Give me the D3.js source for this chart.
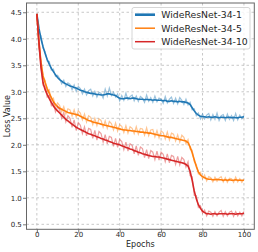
<!DOCTYPE html>
<html>
<head>
<meta charset="utf-8">
<script src="https://d3js.org/d3.v7.min.js"></script>
<style>
body{margin:0;background:#fff;}
svg text{font-family:"DejaVu Sans",sans-serif;fill:#262626;}
</style>
</head>
<body>
<div id="chart"></div>
<script>
// epochs 0..100
var epochs=d3.range(0,101);
var seriesNames=["WideResNet-34-1","WideResNet-34-5","WideResNet-34-10"];
var seriesColors=["#1f77b4","#ff7f0e","#d62728"];
var xTicks=[0,20,40,60,80,100];
var yTicks=[0.5,1.0,1.5,2.0,2.5,3.0,3.5,4.0,4.5];

/*WRN-34-1*/
var raw1=[4.47,4.12,4.06,3.82,3.76,3.58,3.57,3.41,3.43,3.29,
3.31,3.25,3.15,3.22,3.10,3.17,3.14,3.04,3.13,3.01,
3.10,3.06,2.96,3.05,2.94,3.02,3.05,2.92,3.01,2.90,
2.99,2.97,2.88,3.05,2.92,3.07,2.93,2.99,2.90,2.96,
2.83,2.93,2.84,2.97,2.85,2.91,2.94,2.83,2.92,2.82,
2.91,2.88,2.80,2.94,2.82,2.89,2.80,2.92,2.81,2.88,
2.86,2.78,2.91,2.79,2.86,2.90,2.78,2.88,2.77,2.89,
2.84,2.76,2.86,2.75,2.80,2.66,2.68,2.55,2.60,2.49,
2.58,2.49,2.56,2.59,2.47,2.57,2.48,2.60,2.46,2.55,
2.57,2.46,2.58,2.48,2.55,2.46,2.59,2.47,2.56,2.49,2.55];
var smooth1=[4.47,4.20,4.00,3.85,3.72,3.61,3.52,3.44,3.38,3.32,
3.27,3.23,3.20,3.17,3.15,3.13,3.11,3.10,3.08,3.07,
3.05,3.03,3.02,3.00,2.99,2.98,2.97,2.97,2.96,2.95,
2.95,2.94,2.94,2.95,2.96,2.96,2.95,2.94,2.93,2.90,
2.88,2.87,2.87,2.88,2.88,2.87,2.88,2.88,2.87,2.86,
2.86,2.86,2.85,2.86,2.85,2.85,2.84,2.85,2.84,2.84,
2.84,2.83,2.84,2.82,2.82,2.83,2.82,2.82,2.81,2.82,
2.81,2.81,2.80,2.79,2.76,2.70,2.64,2.59,2.56,2.54,
2.53,2.53,2.52,2.53,2.52,2.52,2.53,2.52,2.51,2.52,
2.52,2.51,2.52,2.52,2.51,2.52,2.51,2.51,2.52,2.52,2.53];
/*WRN-34-5*/
var raw5=[4.47,3.86,3.60,3.27,3.22,3.00,3.04,2.84,2.88,2.71,
2.79,2.74,2.62,2.72,2.58,2.68,2.66,2.54,2.66,2.52,
2.64,2.60,2.47,2.58,2.43,2.55,2.52,2.38,2.50,2.36,
2.49,2.46,2.33,2.45,2.31,2.44,2.40,2.28,2.41,2.26,
2.38,2.35,2.23,2.36,2.22,2.34,2.31,2.21,2.34,2.20,
2.31,2.30,2.18,2.32,2.17,2.28,2.29,2.15,2.27,2.13,
2.26,2.23,2.11,2.24,2.09,2.22,2.20,2.07,2.19,2.05,
2.18,2.14,2.02,2.10,1.92,1.90,1.68,1.63,1.45,1.48,
1.36,1.43,1.32,1.40,1.38,1.30,1.39,1.31,1.37,1.40,
1.30,1.38,1.29,1.37,1.36,1.29,1.39,1.30,1.36,1.29,1.35];
var smooth5=[4.47,3.95,3.55,3.30,3.17,3.06,2.97,2.89,2.81,2.76,
2.72,2.69,2.67,2.65,2.63,2.61,2.60,2.59,2.58,2.57,
2.56,2.54,2.52,2.50,2.48,2.46,2.45,2.43,2.42,2.41,
2.40,2.39,2.38,2.37,2.36,2.35,2.34,2.33,2.32,2.31,
2.30,2.29,2.28,2.28,2.27,2.27,2.26,2.26,2.25,2.25,
2.24,2.24,2.23,2.23,2.22,2.22,2.21,2.20,2.19,2.18,
2.17,2.17,2.16,2.15,2.14,2.14,2.13,2.12,2.11,2.10,
2.09,2.08,2.07,2.04,1.96,1.85,1.72,1.59,1.49,1.43,
1.40,1.38,1.36,1.35,1.35,1.34,1.34,1.35,1.34,1.34,
1.33,1.34,1.33,1.34,1.33,1.33,1.34,1.33,1.33,1.33,1.33];
/*WRN-34-10*/
var raw10=[4.47,3.82,3.50,3.12,3.09,2.90,2.93,2.74,2.79,2.62,
2.72,2.66,2.50,2.61,2.43,2.55,2.50,2.33,2.47,2.27,
2.42,2.37,2.21,2.34,2.17,2.31,2.29,2.12,2.27,2.09,
2.25,2.21,2.05,2.19,2.02,2.16,2.14,1.97,2.12,1.95,
2.10,2.06,1.91,2.05,1.88,2.02,1.99,1.83,1.98,1.80,
1.96,1.93,1.76,1.91,1.74,1.89,1.86,1.72,1.88,1.71,
1.86,1.82,1.68,1.83,1.66,1.80,1.78,1.63,1.78,1.62,
1.76,1.72,1.58,1.68,1.42,1.40,1.05,1.04,0.82,0.85,
0.71,0.77,0.66,0.75,0.73,0.65,0.74,0.66,0.73,0.76,
0.65,0.74,0.66,0.73,0.75,0.65,0.74,0.66,0.73,0.66,0.74];
var smooth10=[4.47,3.95,3.45,3.17,3.04,2.95,2.87,2.80,2.73,2.68,
2.64,2.60,2.56,2.52,2.48,2.45,2.42,2.39,2.36,2.33,
2.31,2.29,2.27,2.25,2.23,2.21,2.20,2.18,2.17,2.15,
2.14,2.12,2.11,2.09,2.08,2.06,2.05,2.03,2.02,2.01,
2.00,1.98,1.97,1.95,1.94,1.92,1.91,1.89,1.88,1.86,
1.85,1.83,1.82,1.81,1.80,1.79,1.78,1.78,1.77,1.77,
1.76,1.75,1.74,1.73,1.72,1.71,1.70,1.69,1.68,1.67,
1.66,1.65,1.63,1.60,1.50,1.33,1.13,0.98,0.87,0.80,
0.75,0.72,0.70,0.70,0.69,0.70,0.70,0.69,0.70,0.70,
0.70,0.70,0.69,0.70,0.70,0.70,0.69,0.70,0.70,0.70,0.71];

var rawData=[raw1,raw5,raw10];
var smoothData=[smooth1,smooth5,smooth10];

var W=258,H=252;
var pL=26.5,pR=254.3,pT=3,pB=229.3;

var svg=d3.select("#chart").append("svg").attr("width",W).attr("height",H);
var x=d3.scaleLinear().domain([-5,105]).range([pL,pR]);
var y=d3.scaleLinear().domain([0.406,4.675]).range([pB,pT]);

//网格
var grid=svg.append("g");
grid.selectAll(".gx").data(xTicks).enter().append("line")
	.attr("x1",function(d){return x(d);}).attr("x2",function(d){return x(d);})
	.attr("y1",pT).attr("y2",pB)
	.attr("stroke","#b0b0b0").attr("stroke-width",0.7).attr("stroke-dasharray","2.5,2.5");
grid.selectAll(".gy").data(yTicks).enter().append("line")
	.attr("x1",pL).attr("x2",pR)
	.attr("y1",function(d){return y(d);}).attr("y2",function(d){return y(d);})
	.attr("stroke","#b0b0b0").attr("stroke-width",0.7).attr("stroke-dasharray","2.5,2.5");

//曲线
var line=d3.line().x(function(d,i){return x(epochs[i]);}).y(function(d){return y(d);});
var plot=svg.append("g");
for(var k=0;k<3;k++){
	plot.append("path").attr("d",line(rawData[k]))
		.attr("fill","none").attr("stroke",seriesColors[k]).attr("stroke-opacity",0.45).attr("stroke-width",1.2);
	plot.append("path").attr("d",line(smoothData[k]))
		.attr("fill","none").attr("stroke",seriesColors[k]).attr("stroke-width",1.6);
}

//坐标轴
var xAxis=svg.append("g").attr("transform","translate(0,"+pB+")")
	.call(d3.axisBottom(x).tickValues(xTicks).tickSize(3.5).tickPadding(2).tickFormat(d3.format("d")));
var yAxis=svg.append("g").attr("transform","translate("+pL+",0)")
	.call(d3.axisLeft(y).tickValues(yTicks).tickSize(3.5).tickPadding(1.2).tickFormat(d3.format(".1f")));
[xAxis,yAxis].forEach(function(a){
	a.select(".domain").remove();
	a.selectAll(".tick line").attr("stroke","#555").attr("stroke-width",0.8);
	a.selectAll(".tick text").attr("font-size","7px").attr("font-family","DejaVu Sans").attr("fill","#262626");
});
xAxis.selectAll(".tick text").attr("y",3.2);
svg.append("rect").attr("x",pL).attr("y",pT).attr("width",pR-pL).attr("height",pB-pT)
	.attr("fill","none").attr("stroke","#666").attr("stroke-width",1);

svg.append("text").attr("x",(pL+pR)/2).attr("y",247).attr("text-anchor","middle")
	.attr("font-size","8px").text("Epochs");
svg.append("text").attr("transform","translate(10.3,"+((pT+pB)/2)+") rotate(-90)")
	.attr("text-anchor","middle").attr("font-size","8px").text("Loss Value");

//图例
var legend=svg.append("g");
legend.append("rect").attr("x",132).attr("y",7.5).attr("width",118).attr("height",41.5).attr("rx",2)
	.attr("fill","#fff").attr("fill-opacity",0.8).attr("stroke","#ccc").attr("stroke-width",0.8);
legend.selectAll(".lg").data(seriesNames).enter().append("g").attr("class",function(d,i){
	var node=d3.select(this);
	var ly=14.7+i*13.5;
	node.append("line").attr("x1",135).attr("x2",155).attr("y1",ly).attr("y2",ly)
		.attr("stroke",seriesColors[i]).attr("stroke-width",i==0?2.6:1.5);
	node.append("text").attr("x",161.3).attr("y",ly+3.3).attr("font-size","9.3px").text(d);
	return "lg";
});
</script>
</body>
</html>
